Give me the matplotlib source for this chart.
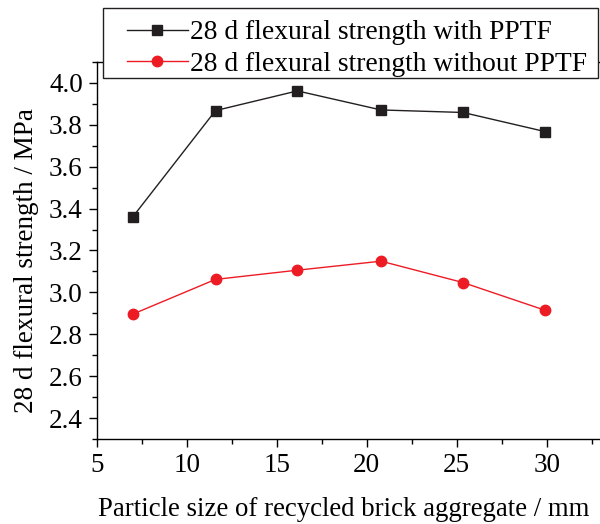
import matplotlib
matplotlib.use("Agg")
import matplotlib.pyplot as plt
from matplotlib.ticker import MultipleLocator
from matplotlib.patches import Rectangle

plt.rcParams['font.family'] = ['Liberation Serif', 'DejaVu Serif']
plt.rcParams['mathtext.fontset'] = 'stix'

particle_size = [7.0, 11.6, 16.15, 20.8, 25.35, 29.9]
with_pptf = [3.36, 3.868, 3.962, 3.871, 3.859, 3.768]
without_pptf = [2.896, 3.062, 3.106, 3.149, 3.047, 2.915]
y_ticks = [2.4, 2.6, 2.8, 3.0, 3.2, 3.4, 3.6, 3.8, 4.0]
x_ticks = [5, 10, 15, 20, 25, 30]

W, H = 600, 524
fig = plt.figure(figsize=(6, 5.24), dpi=100)
ax = fig.add_axes([96.7 / W, 1 - 439 / H, (636.7 - 96.7) / W, (439 - 62) / H])

fs = 19.5
ax.plot(particle_size, with_pptf, '-s', color='#231f20', lw=1.0, ms=6.5,
        label='28 d flexural strength with PPTF')
ax.plot(particle_size, without_pptf, '-o', color='#ed1c24', lw=1.0, ms=7.5,
        label='28 d flexural strength without PPTF')

ax.set_xlim(5, 35)
ax.set_ylim(2.3, 4.1)
ax.set_xticks(x_ticks)
ax.set_yticks(y_ticks)
ax.set_yticklabels([f"{v:.1f}" for v in y_ticks])
ax.xaxis.set_minor_locator(MultipleLocator(2.5))
ax.yaxis.set_minor_locator(MultipleLocator(0.1))
ax.tick_params(which='major', direction='out', length=6, width=1, labelsize=fs, pad=4)
ax.tick_params(which='minor', direction='out', length=3.5, width=1)
for s in ax.spines.values():
    s.set_linewidth(1.0)

ax.set_xlabel('Particle size of recycled brick aggregate / mm', fontsize=19.3, labelpad=16)
ax.xaxis.label.set_horizontalalignment('left')
ax.xaxis.set_label_coords(0.003, -0.155)
ax.set_ylabel('28 d flexural strength / MPa', fontsize=fs, labelpad=6)
ax.yaxis.set_label_coords(-0.107, 0.472)

# legend frame
frame = Rectangle((103 / W, 1 - 78 / H), (598 - 103) / W, (78 - 8) / H,
                  transform=fig.transFigure, facecolor='white',
                  edgecolor='#231f20', lw=1.0, clip_on=False, zorder=4)
ax.add_patch(frame)

leg = ax.legend(loc='upper left', bbox_to_anchor=(127 / W, 1 - 20 / H),
                bbox_transform=fig.transFigure, fontsize=19.8, frameon=False,
                handlelength=2.2, handletextpad=0.08, borderpad=0,
                labelspacing=0.24, borderaxespad=0)
leg.set_zorder(5)

fig.savefig('out.png', dpi=100)
